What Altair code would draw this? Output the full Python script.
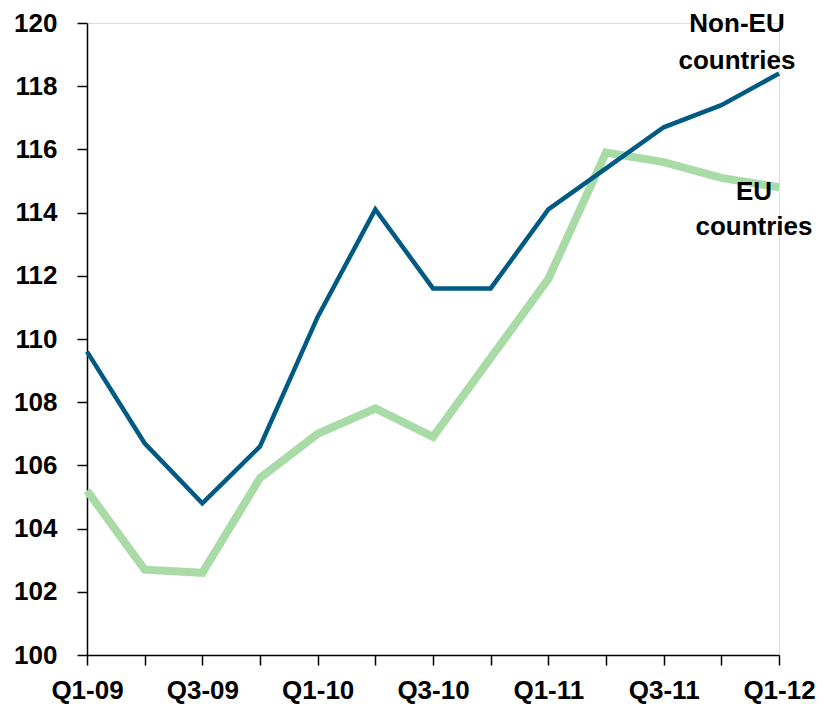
import altair as alt
import pandas as pd

quarters = ["Q1-09", "Q2-09", "Q3-09", "Q4-09", "Q1-10", "Q2-10", "Q3-10",
            "Q4-10", "Q1-11", "Q2-11", "Q3-11", "Q4-11", "Q1-12"]
non_eu = [109.6, 106.7, 104.8, 106.6, 110.7, 114.1, 111.6,
          111.6, 114.1, 115.4, 116.7, 117.4, 118.4]
eu = [105.2, 102.7, 102.6, 105.6, 107.0, 107.8, 106.9,
      109.4, 111.9, 115.9, 115.6, 115.1, 114.8]

series_names = ["Non-EU countries", "EU countries"]
series_colors = ["#005a84", "#a8dba5"]

label_lines_non_eu = ["Non-EU", "countries"]
label_y_non_eu = [119.7, 118.55]
label_lines_eu = ["EU", "countries"]
label_y_eu = [114.4, 113.3]

FONT = "Liberation Sans, Arial, sans-serif"
FS = 26

df = pd.DataFrame({
    "quarter": quarters * 2,
    "value": non_eu + eu,
    "series": [series_names[0]] * len(quarters) + [series_names[1]] * len(quarters),
})

x_enc = alt.X("quarter:O", sort=quarters,
              scale=alt.Scale(type="point", padding=0),
              axis=alt.Axis(title=None, labelAngle=0,
                            labelExpr="(indexof(datum.label,'Q2')>=0 || indexof(datum.label,'Q4')>=0) ? '' : datum.label",
                            labelFont=FONT, labelFontSize=FS, labelFontWeight="bold",
                            labelColor="black", labelPadding=12,
                            tickSize=10, tickColor="black", tickWidth=1.5,
                            domainColor="black", domainWidth=1.5, grid=False))
y_enc = alt.Y("value:Q",
              scale=alt.Scale(domain=[100, 120], nice=False, zero=False),
              axis=alt.Axis(title=None, values=list(range(100, 121, 2)),
                            labelFont=FONT, labelFontSize=FS, labelFontWeight="bold",
                            labelColor="black", labelPadding=20,
                            tickSize=10, tickColor="black", tickWidth=1.5,
                            domainColor="black", domainWidth=1.5, grid=False))

eu_line = alt.Chart(df[df.series == series_names[1]]).mark_line(
    color=series_colors[1], strokeWidth=8, strokeJoin="miter"
).encode(x=x_enc, y=y_enc)

non_eu_line = alt.Chart(df[df.series == series_names[0]]).mark_line(
    color=series_colors[0], strokeWidth=4.5, strokeJoin="miter"
).encode(x=x_enc, y=y_enc)

lab_non_eu = pd.DataFrame({"quarter": ["Q1-12"] * 2, "value": label_y_non_eu,
                           "text": label_lines_non_eu})
lab_eu = pd.DataFrame({"quarter": ["Q1-12"] * 2, "value": label_y_eu,
                       "text": label_lines_eu})

text_non_eu = alt.Chart(lab_non_eu).mark_text(
    font=FONT, fontSize=FS, fontWeight="bold", color="black",
    align="center", baseline="alphabetic", dx=-42
).encode(x=alt.X("quarter:O", sort=quarters), y="value:Q", text="text:N")

text_eu = alt.Chart(lab_eu).mark_text(
    font=FONT, fontSize=FS, fontWeight="bold", color="black",
    align="center", baseline="alphabetic", dx=-25
).encode(x=alt.X("quarter:O", sort=quarters), y="value:Q", text="text:N")

chart = alt.layer(eu_line, non_eu_line, text_non_eu, text_eu).properties(
    width=692, height=632,
    autosize=alt.AutoSizeParams(type="none"),
    padding={"left": 79, "top": 15, "right": 43, "bottom": 50},
).configure_view(stroke=None).configure(background="white")

chart.save("out.html", embed_options={"renderer": "svg", "actions": False})
